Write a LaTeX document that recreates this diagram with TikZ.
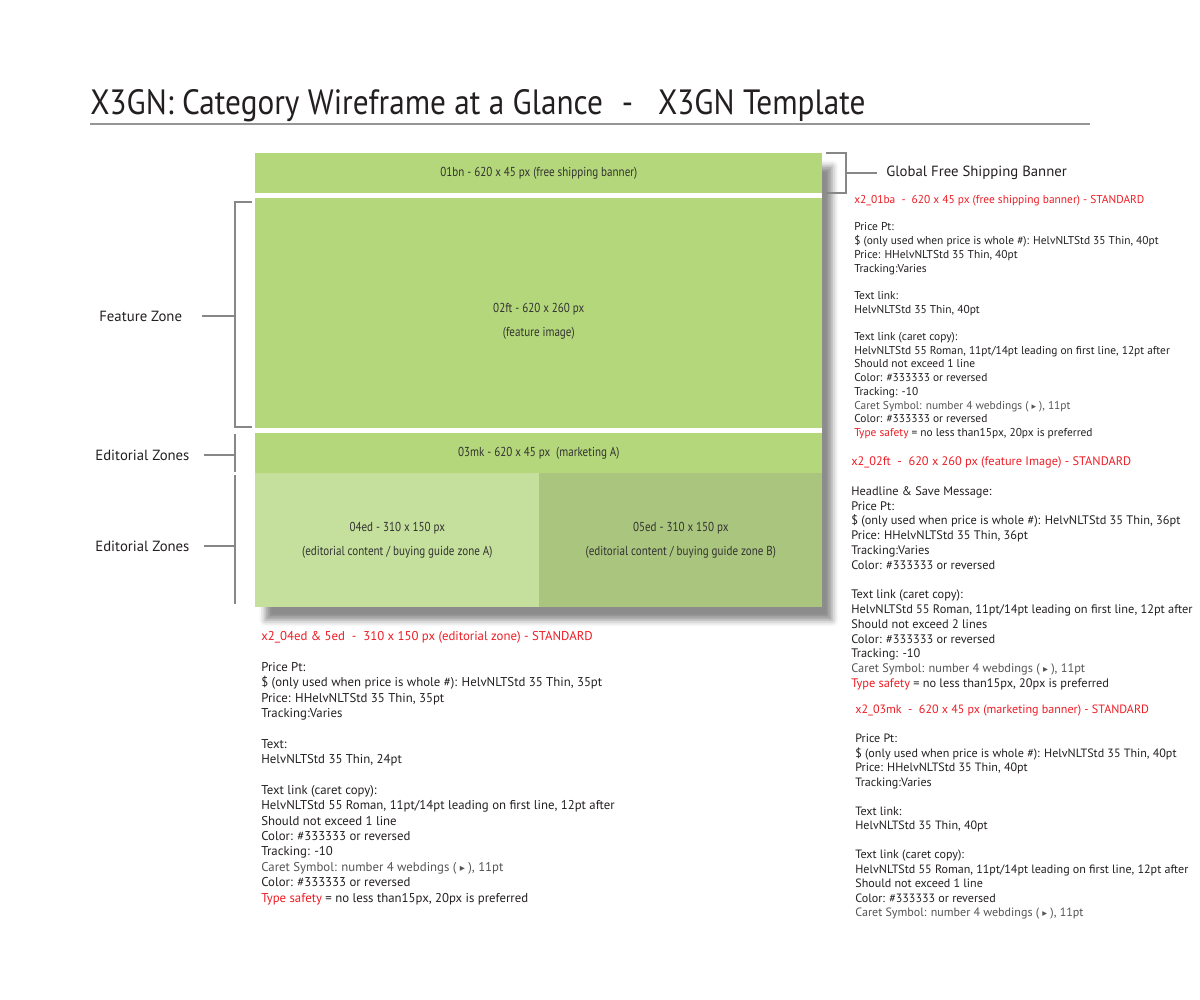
\documentclass[tikz,border=0pt]{standalone}
\usepackage{fontspec}
\setmainfont{PT Sans}
\newfontfamily\titlefont[FakeStretch=0.89]{PT Sans}
\newfontfamily\zonefont[FakeStretch=0.85]{PT Sans}
\newfontfamily\symfont{DejaVu Sans}
\usetikzlibrary{positioning,shadows.blur}
\definecolor{bannerC}{RGB}{181,215,123}
\definecolor{edAC}{RGB}{197,223,156}
\definecolor{edBC}{RGB}{170,197,126}
\definecolor{zoneTxtC}{RGB}{50,50,50}
\definecolor{lineC}{RGB}{135,135,135}
\definecolor{ruleC}{RGB}{150,150,150}
\definecolor{specRedC}{RGB}{237,28,36}
\definecolor{caretC}{RGB}{85,85,85}
\definecolor{bodyC}{RGB}{35,31,32}
\newcommand{\caretsym}{{\symfont\scalebox{0.8}{▸}}}
\newcommand{\skipline}{\\[\baselineskip]}
\newcommand{\caretline}{\textcolor{caretC}{Caret Symbol: number 4 webdings ( \caretsym\ ), 11pt}}
\newcommand{\typesafe}{\textcolor{specRedC}{Type safety} = no less than15px, 20px is preferred}
\tikzset{
	page/.style={anchor=north west, inner sep=0pt, fill=white,
		blur shadow={shadow xshift=0.2cm, shadow yshift=-0.26cm,
			shadow blur radius=0.12cm, shadow opacity=45}},
	zone/.style={anchor=north west, inner sep=0pt, align=center, text=zoneTxtC,
		font=\zonefont\fontsize{7.4}{13.8}\selectfont},
	zonetext/.style={inner sep=0pt, align=center, text=zoneTxtC,
		font=\zonefont\fontsize{7.4}{13.8}\selectfont},
	bracket/.style={draw=lineC, line width=0.7pt},
	zonelabel/.style={anchor=west, inner sep=0pt, text=bodyC,
		font=\fontsize{8.4}{10}\selectfont},
	spec/.style={anchor=north west, inner sep=0pt, align=left, text=bodyC},
}

\begin{document}
\begin{tikzpicture}[x=0.02cm, y=-0.02cm]
	\useasboundingbox (0,0) rectangle (1200,1000);
	
	% =============== TITLE ===============
	\node[anchor=base west, inner sep=0pt, text=bodyC,
	font=\titlefont\fontsize{20}{24}\selectfont] (title) at (90,115)
	{X3GN: Category Wireframe at a Glance\hspace{0.38cm}-\hspace{0.5cm}X3GN Template};
	\draw[ruleC, line width=0.6pt] (90,124) -- (1090,124);
	
	% =============== WIREFRAME ZONES ===============
	\node[page, minimum width=11.34cm, minimum height=9.08cm] (pg) at (255,153) {};
	\node[zone, fill=bannerC, minimum width=11.34cm, minimum height=0.8cm] (bn) at (255,153)
	{01bn - 620 x 45 px (free shipping banner)};
	\node[zone, fill=bannerC, minimum width=11.34cm, minimum height=4.6cm] (ft) at (255,198) {};
	\node[zonetext] (ftT) at ([yshift=-0.16cm]ft.center)
	{02ft - 620 x 260 px\\(feature image)};
	\node[zone, fill=bannerC, minimum width=11.34cm, minimum height=0.8cm] (mk) at (255,433)
	{03mk - 620 x 45 px\ \ (marketing A)};
	\node[zone, fill=edAC, minimum width=5.68cm, minimum height=2.68cm] (edA) at (255,473)
	{04ed - 310 x 150 px\\(editorial content / buying guide zone A)};
	\node[zone, fill=edBC, minimum width=5.66cm, minimum height=2.68cm] (edB) at (539,473)
	{05ed - 310 x 150 px\\(editorial content / buying guide zone B)};
	
	% =============== LEFT BRACKETS ===============
	\node[zonelabel] (fzL) at (99,316) {Feature Zone};
	\coordinate (fzT) at (252,202);
	\coordinate (fzM) at (235,316);
	\coordinate (fzB) at (252,427);
	\draw[bracket] (fzT) -| (fzM) |- (fzB);
	\draw[bracket] ([xshift=0.4cm]fzL.east) -- (fzM);
	
	\node[zonelabel] (ez1L) at (95,455) {Editorial Zones};
	\coordinate (ez1T) at (235,434);
	\coordinate (ez1M) at (235,455);
	\coordinate (ez1B) at (235,472);
	\draw[bracket] (ez1T) -- (ez1B);
	\draw[bracket] ([xshift=0.28cm]ez1L.east) -- (ez1M);
	
	\node[zonelabel] (ez2L) at (95,546) {Editorial Zones};
	\coordinate (ez2T) at (235,475);
	\coordinate (ez2M) at (235,546);
	\coordinate (ez2B) at (235,604);
	\draw[bracket] (ez2T) -- (ez2B);
	\draw[bracket] ([xshift=0.28cm]ez2L.east) -- (ez2M);
	
	% =============== RIGHT BRACKET ===============
	\node[zonelabel] (gfL) at (886,173) {Global Free Shipping Banner};
	\coordinate (gfT) at (826,153);
	\coordinate (gfM) at (846,173);
	\coordinate (gfB) at (826,193);
	\draw[bracket] (gfT) -| (gfM) |- (gfB);
	\draw[bracket] (gfM) -- ([xshift=-0.18cm]gfL.west);
	
	% =============== SPEC NOTES ===============
	\node[spec, font=\fontsize{6.5}{7.8}\selectfont] (sp1) at (854,195)
	{\textcolor{specRedC}{x2\_01ba\ \ -\ \ 620 x 45 px (free shipping banner) - STANDARD}\skipline
		Price Pt:\\
		\$ (only used when price is whole \#): HelvNLTStd 35 Thin, 40pt\\
		Price: HHelvNLTStd 35 Thin, 40pt\\
		Tracking:Varies\skipline
		Text link:\\
		HelvNLTStd 35 Thin, 40pt\skipline
		Text link (caret copy):\\
		HelvNLTStd 55 Roman, 11pt/14pt leading on first line, 12pt after\\
		Should not exceed 1 line\\
		Color: \#333333 or reversed\\
		Tracking: -10\\
		\caretline\\
		Color: \#333333 or reversed\\
		\typesafe};
	
	\node[spec, font=\fontsize{7.03}{8.42}\selectfont] (sp2) at (851,456.5)
	{\textcolor{specRedC}{x2\_02ft\ \ -\ \ 620 x 260 px (feature Image) - STANDARD}\skipline
		Headline \& Save Message:\\
		Price Pt:\\
		\$ (only used when price is whole \#): HelvNLTStd 35 Thin, 36pt\\
		Price: HHelvNLTStd 35 Thin, 36pt\\
		Tracking:Varies\\
		Color: \#333333 or reversed\skipline
		Text link (caret copy):\\
		HelvNLTStd 55 Roman, 11pt/14pt leading on first line, 12pt after\\
		Should not exceed 2 lines\\
		Color: \#333333 or reversed\\
		Tracking: -10\\
		\caretline\\
		\typesafe};
	
	\node[spec, font=\fontsize{6.86}{8.25}\selectfont] (sp3) at (855,704.7)
	{\textcolor{specRedC}{x2\_03mk\ \ -\ \ 620 x 45 px (marketing banner) - STANDARD}\skipline
		Price Pt:\\
		\$ (only used when price is whole \#): HelvNLTStd 35 Thin, 40pt\\
		Price: HHelvNLTStd 35 Thin, 40pt\\
		Tracking:Varies\skipline
		Text link:\\
		HelvNLTStd 35 Thin, 40pt\skipline
		Text link (caret copy):\\
		HelvNLTStd 55 Roman, 11pt/14pt leading on first line, 12pt after\\
		Should not exceed 1 line\\
		Color: \#333333 or reversed\\
		\caretline};
	
	\node[spec, font=\fontsize{7.28}{8.76}\selectfont] (sp4) at (261,631)
	{\textcolor{specRedC}{x2\_04ed \& 5ed\ \ -\ \ 310 x 150 px (editorial zone) - STANDARD}\skipline
		Price Pt:\\
		\$ (only used when price is whole \#): HelvNLTStd 35 Thin, 35pt\\
		Price: HHelvNLTStd 35 Thin, 35pt\\
		Tracking:Varies\skipline
		Text:\\
		HelvNLTStd 35 Thin, 24pt\skipline
		Text link (caret copy):\\
		HelvNLTStd 55 Roman, 11pt/14pt leading on first line, 12pt after\\
		Should not exceed 1 line\\
		Color: \#333333 or reversed\\
		Tracking: -10\\
		\caretline\\
		Color: \#333333 or reversed\\
		\typesafe};
	
\end{tikzpicture}
\end{document}
